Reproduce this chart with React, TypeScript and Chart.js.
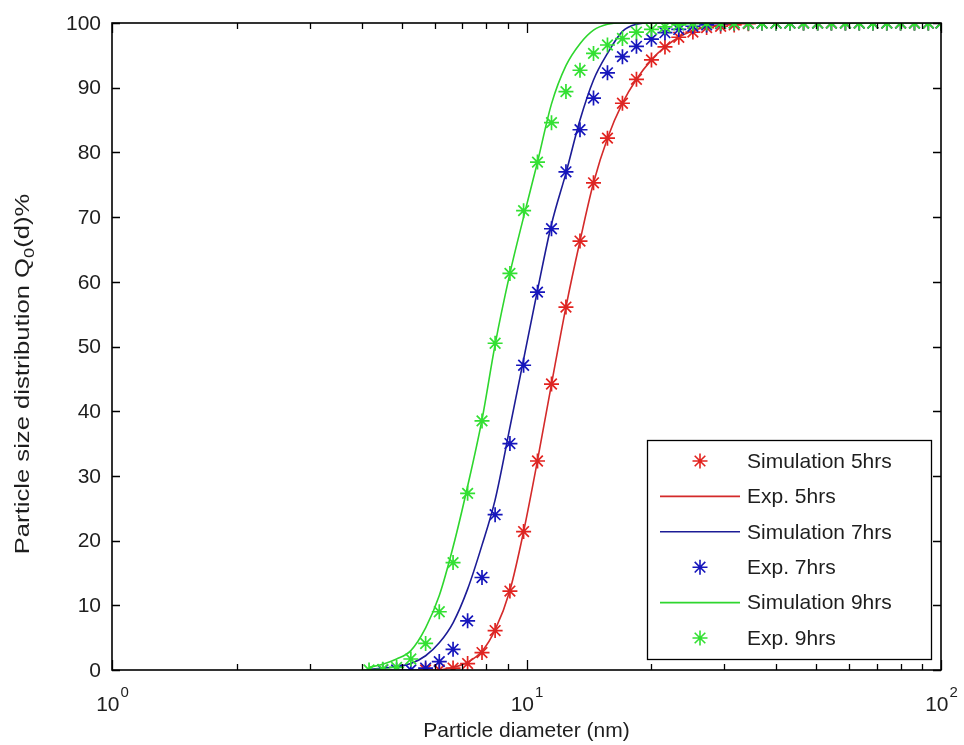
import React, { useEffect, useRef } from 'react';
import { Chart, registerables } from 'chart.js';

Chart.register(...registerables);

// Particle diameter grid (nm), log-spaced
const diameters = [
  4.17, 4.5, 4.86, 5.26, 5.71, 6.16, 6.65, 7.21, 7.81, 8.4, 9.12, 9.84, 10.63, 11.49,
  12.45, 13.46, 14.51, 15.68, 17.04, 18.42, 20.02, 21.58, 23.3, 25.2, 27.2, 29.4, 31.7,
  34.3, 37.0, 40.0, 43.2, 46.6, 50.4, 54.4, 58.8, 63.5, 68.5, 74.0, 79.9, 86.3, 93.2, 100,
];

// Red stars
const sim5 = [
  null, null, null, null, 0, 0, 0.3, 1.0, 2.7, 6.1, 12.2, 21.4, 32.3, 44.2,
  56.1, 66.3, 75.3, 82.2, 87.6, 91.3, 94.3, 96.3, 97.8, 98.6, 99.3, 99.5, 99.7,
  99.9, 100, 100, 100, 100, 100, 100, 100, 100, 100, 100, 100, 100, 100, 100,
];
// Red line
const exp5 = [
  null, null, null, null, null, 0, 0.4, 1.2, 2.9, 6.2, 12.3, 21.4, 32.4, 44.2,
  56.1, 66.3, 75.3, 82.2, 87.6, 91.3, 94.3, 96.3, 97.8, 98.8, 99.4, 99.7, 99.9,
  100, 100, 100, 100, 100, 100, 100, 100, 100, 100, 100, 100, 100, 100, 100,
];
// Blue line
const sim7 = [
  0.1, 0.3, 0.5, 1.0, 2.2, 4.2, 7.3, 12.5, 19.3, 26.3, 37.5, 48.0, 58.7, 68.9,
  76.8, 85.0, 91.2, 95.3, 98.7, 99.8, 100, 100, 100, 100, 100, 100, 100,
  100, 100, 100, 100, 100, 100, 100, 100, 100, 100, 100, 100, 100, 100, 100,
];
// Blue stars
const exp7 = [
  null, 0, 0, 0, 0.3, 1.3, 3.2, 7.6, 14.3, 24.0, 35.0, 47.1, 58.4, 68.2,
  77.0, 83.5, 88.4, 92.3, 94.8, 96.4, 97.5, 98.5, 99.0, 99.5, 99.7, 99.9, 100,
  100, 100, 100, 100, 100, 100, 100, 100, 100, 100, 100, 100, 100, 100, 100,
];
// Green line
const sim9 = [
  0.4, 0.9, 1.7, 3.0, 6.5, 11.5, 19.0, 28.4, 38.7, 50.3, 61.3, 70.0, 78.5, 87.5,
  93.4, 96.8, 98.9, 99.8, 100, 100, 100, 100, 100, 100, 100, 100, 100,
  100, 100, 100, 100, 100, 100, 100, 100, 100, 100, 100, 100, 100, 100, 100,
];
// Green stars
const exp9 = [
  0, 0.1, 0.4, 1.7, 4.1, 9.0, 16.6, 27.3, 38.5, 50.5, 61.3, 71.0, 78.5, 84.6,
  89.4, 92.7, 95.3, 96.6, 97.6, 98.6, 99.0, 99.4, 99.7, 99.9, 100, 100, 100,
  100, 100, 100, 100, 100, 100, 100, 100, 100, 100, 100, 100, 100, 100, 100,
];

const seriesLabels = [
  'Simulation 5hrs',
  'Exp. 5hrs',
  'Simulation 7hrs',
  'Exp. 7hrs',
  'Simulation 9hrs',
  'Exp. 9hrs',
];
const seriesValues = [sim5, exp5, sim7, exp7, sim9, exp9];
const seriesIsMarker = [true, false, false, true, false, true];
const seriesColors = ['#e3231f', '#d42a2a', '#1c1c96', '#1616bc', '#2ed62e', '#33e033'];

const yTicks = [0, 10, 20, 30, 40, 50, 60, 70, 80, 90, 100];
const xMajorTicks = [1, 10, 100];
const xMajorExponents = ['0', '1', '2'];
const xMinorTicks = [2, 3, 4, 5, 6, 7, 8, 9, 20, 30, 40, 50, 60, 70, 80, 90];

const xTitle = 'Particle diameter (nm)';
const yTitleMain = 'Particle size distribution Q';
const yTitleSub = '0';
const yTitleTail = '(d)%';

const FONT = '"Liberation Sans", Arial, Helvetica, sans-serif';
const TEXT_COLOR = '#1e1e1e';

function drawStar(ctx: CanvasRenderingContext2D, x: number, y: number, r: number) {
  const d = r * Math.SQRT1_2;
  ctx.beginPath();
  ctx.moveTo(x - r, y);
  ctx.lineTo(x + r, y);
  ctx.moveTo(x, y - r);
  ctx.lineTo(x, y + r);
  ctx.moveTo(x - d, y - d);
  ctx.lineTo(x + d, y + d);
  ctx.moveTo(x - d, y + d);
  ctx.lineTo(x + d, y - d);
  ctx.stroke();
}

const matlabAxesPlugin = {
  id: 'matlabAxes',
  afterDraw(chart: any) {
    const ctx: CanvasRenderingContext2D = chart.ctx;
    const { left, right, top, bottom } = chart.chartArea;
    const xs = chart.scales.x;
    const ys = chart.scales.y;
    ctx.save();

    // ticks
    ctx.strokeStyle = '#000';
    ctx.lineWidth = 1.3;
    ctx.beginPath();
    yTicks.forEach((v) => {
      const py = Math.round(ys.getPixelForValue(v)) + 0.5;
      ctx.moveTo(left, py);
      ctx.lineTo(left + 8, py);
      ctx.moveTo(right, py);
      ctx.lineTo(right - 8, py);
    });
    xMajorTicks.forEach((v) => {
      const px = Math.round(xs.getPixelForValue(v)) + 0.5;
      ctx.moveTo(px, bottom);
      ctx.lineTo(px, bottom - 10);
      ctx.moveTo(px, top);
      ctx.lineTo(px, top + 10);
    });
    xMinorTicks.forEach((v) => {
      const px = Math.round(xs.getPixelForValue(v)) + 0.5;
      ctx.moveTo(px, bottom);
      ctx.lineTo(px, bottom - 6);
      ctx.moveTo(px, top);
      ctx.lineTo(px, top + 6);
    });
    ctx.stroke();

    // frame
    ctx.lineWidth = 1.6;
    ctx.strokeRect(left, top, right - left, bottom - top);

    // y tick labels
    ctx.fillStyle = TEXT_COLOR;
    ctx.font = `21px ${FONT}`;
    ctx.textAlign = 'right';
    ctx.textBaseline = 'middle';
    yTicks.forEach((v) => {
      ctx.fillText(String(v), left - 11, ys.getPixelForValue(v) + 1);
    });

    // x tick labels 10^n
    ctx.textBaseline = 'alphabetic';
    ctx.textAlign = 'left';
    xMajorTicks.forEach((v, i) => {
      const px = xs.getPixelForValue(v);
      ctx.font = `21px ${FONT}`;
      const wb = ctx.measureText('10').width;
      ctx.font = `15px ${FONT}`;
      const we = ctx.measureText(xMajorExponents[i]).width;
      const start = px - (wb + we) / 2;
      ctx.font = `21px ${FONT}`;
      ctx.fillText('10', start, bottom + 41);
      ctx.font = `15px ${FONT}`;
      ctx.fillText(xMajorExponents[i], start + wb + 1, bottom + 27);
    });

    // x title
    ctx.font = `21px ${FONT}`;
    ctx.textAlign = 'center';
    ctx.fillText(xTitle, (left + right) / 2, bottom + 67);

    // y title (rotated, with subscript)
    ctx.save();
    ctx.translate(29, 374);
    ctx.rotate(-Math.PI / 2);
    ctx.scale(1.22, 1);
    ctx.font = `21px ${FONT}`;
    const w1 = ctx.measureText(yTitleMain).width;
    const w3 = ctx.measureText(yTitleTail).width;
    ctx.font = `15px ${FONT}`;
    const w2 = ctx.measureText(yTitleSub).width;
    const total = w1 + w2 + w3;
    let cx = -total / 2;
    ctx.textAlign = 'left';
    ctx.font = `21px ${FONT}`;
    ctx.fillText(yTitleMain, cx, 0);
    cx += w1;
    ctx.font = `15px ${FONT}`;
    ctx.fillText(yTitleSub, cx, 5);
    cx += w2;
    ctx.font = `21px ${FONT}`;
    ctx.fillText(yTitleTail, cx, 0);
    ctx.restore();

    // legend
    const bw = 284;
    const bh = 219;
    const bx = right - 10 - bw;
    const by = bottom - 11 - bh;
    ctx.fillStyle = '#fff';
    ctx.fillRect(bx, by, bw, bh);
    ctx.strokeStyle = '#000';
    ctx.lineWidth = 1.3;
    ctx.strokeRect(bx + 0.5, by + 0.5, bw, bh);
    ctx.font = `21px ${FONT}`;
    ctx.textAlign = 'left';
    ctx.textBaseline = 'middle';
    chart.data.datasets.forEach((ds: any, i: number) => {
      const ry = by + 21 + i * 35.4;
      ctx.strokeStyle = ds.borderColor;
      if (ds.showLine === false) {
        ctx.lineWidth = 1.6;
        drawStar(ctx, bx + 53, ry, 7.5);
      } else {
        ctx.lineWidth = 1.6;
        ctx.beginPath();
        ctx.moveTo(bx + 13, ry);
        ctx.lineTo(bx + 93, ry);
        ctx.stroke();
      }
      ctx.fillStyle = TEXT_COLOR;
      ctx.fillText(ds.label, bx + 100, ry + 1);
    });

    ctx.restore();
  },
};

export default function App() {
  const canvasRef = useRef<HTMLCanvasElement | null>(null);

  useEffect(() => {
    document.body.style.margin = '0';
    const canvas = canvasRef.current;
    if (!canvas) return;

    const datasets = seriesLabels.map((label, i) => {
      const pts = diameters
        .map((x, k) => (seriesValues[i][k] == null ? null : { x, y: seriesValues[i][k] as number }))
        .filter((p) => p !== null);
      const color = seriesColors[i];
      if (seriesIsMarker[i]) {
        return {
          label,
          data: pts,
          showLine: false,
          borderColor: color,
          backgroundColor: color,
          pointStyle: 'star',
          pointRadius: 7.5,
          pointBorderWidth: 1.7,
          pointHoverRadius: 7.5,
          order: seriesLabels.length - i,
        };
      }
      return {
        label,
        data: pts,
        showLine: true,
        borderColor: color,
        backgroundColor: color,
        borderWidth: 1.6,
        pointRadius: 0,
        cubicInterpolationMode: 'monotone',
        order: seriesLabels.length - i,
      };
    });

    const chart = new Chart(canvas, {
      type: 'scatter',
      data: { datasets } as any,
      options: {
        responsive: false,
        maintainAspectRatio: false,
        animation: false,
        layout: { padding: { left: 0, right: 23, top: 23, bottom: 0 } },
        scales: {
          x: {
            type: 'logarithmic',
            min: 1,
            max: 100,
            grid: { display: false },
            border: { display: false },
            ticks: { display: false },
            afterFit: (s: any) => {
              s.height = 75;
            },
          },
          y: {
            type: 'linear',
            min: 0,
            max: 100,
            grid: { display: false },
            border: { display: false },
            ticks: { display: false },
            afterFit: (s: any) => {
              s.width = 112;
            },
          },
        },
        plugins: {
          legend: { display: false },
          tooltip: { enabled: false },
        },
      } as any,
      plugins: [matlabAxesPlugin],
    });

    return () => {
      chart.destroy();
    };
  }, []);

  return (
    <div style={{ width: 964, height: 745, background: '#fff' }}>
      <canvas ref={canvasRef} width={964} height={745} style={{ display: 'block' }} />
    </div>
  );
}
